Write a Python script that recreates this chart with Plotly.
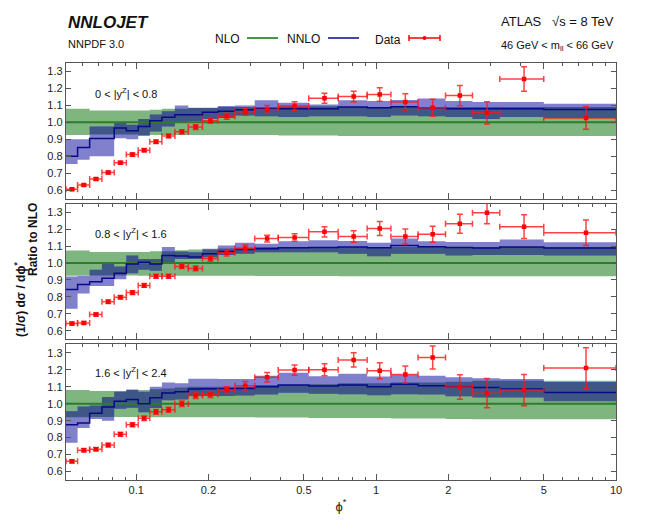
import plotly.graph_objects as go
from plotly.subplots import make_subplots

# ---------------- data ----------------
edges = [0.051, 0.057, 0.064, 0.072, 0.081, 0.091, 0.102, 0.114, 0.128, 0.145, 0.165,
         0.189, 0.219, 0.258, 0.312, 0.391, 0.524, 0.695, 0.918, 1.153, 1.496, 1.947,
         2.522, 3.277, 5.0, 10.0]

panel_labels = ["0 &lt; |y<sup>Z</sup>| &lt; 0.8",
                "0.8 &lt; |y<sup>Z</sup>| &lt; 1.6",
                "1.6 &lt; |y<sup>Z</sup>| &lt; 2.4"]

# data / NLO ratio
data1 = [0.605, 0.63, 0.666, 0.704, 0.762, 0.81, 0.836, 0.886, 0.92, 0.944, 0.972, 1.01, 1.036,
         1.062, 1.076, 1.096, 1.142, 1.152, 1.164, 1.12, 1.086, 1.158, 1.056, 1.256, 1.026]
err1 = [0.007, 0.007, 0.008, 0.009, 0.009, 0.01, 0.01, 0.01, 0.011, 0.012, 0.014, 0.016, 0.017,
        0.02, 0.023, 0.025, 0.03, 0.032, 0.04, 0.048, 0.05, 0.06, 0.065, 0.072, 0.067]
data2 = [0.643, 0.647, 0.697, 0.772, 0.798, 0.826, 0.868, 0.922, 0.922, 0.98, 0.968, 1.026, 1.06,
         1.086, 1.144, 1.15, 1.184, 1.156, 1.204, 1.156, 1.17, 1.232, 1.297, 1.214, 1.178]
err2 = [0.008, 0.008, 0.009, 0.01, 0.01, 0.011, 0.011, 0.012, 0.012, 0.013, 0.014, 0.016, 0.018,
        0.02, 0.02, 0.022, 0.03, 0.034, 0.041, 0.044, 0.047, 0.056, 0.065, 0.07, 0.075]
data3 = [0.66, 0.726, 0.732, 0.756, 0.82, 0.876, 0.914, 0.952, 0.964, 1.0, 1.048, 1.054, 1.08,
         1.106, 1.156, 1.198, 1.2, 1.258, 1.194, 1.172, 1.272, 1.098, 1.062, 1.08, 1.21]
err3 = [0.01, 0.01, 0.01, 0.011, 0.012, 0.012, 0.013, 0.014, 0.015, 0.016, 0.017, 0.017, 0.02,
        0.025, 0.028, 0.03, 0.035, 0.042, 0.047, 0.05, 0.068, 0.072, 0.086, 0.092, 0.12]

# NNLO / NLO central and scale band
nnlo1 = [0.80, 0.852, 0.905, 0.905, 0.966, 0.95, 0.976, 1.01, 1.03, 1.045, 1.045, 1.06, 1.065,
         1.075, 1.08, 1.08, 1.08, 1.09, 1.086, 1.092, 1.086, 1.08, 1.08, 1.08, 1.076]
nnlo1_hi = [0.90, 0.90, 0.975, 0.975, 0.996, 0.986, 1.02, 1.046, 1.066, 1.10, 1.086, 1.086, 1.096,
            1.10, 1.13, 1.115, 1.105, 1.13, 1.126, 1.132, 1.14, 1.126, 1.12, 1.12, 1.11]
nnlo1_lo = [0.755, 0.78, 0.80, 0.80, 0.906, 0.90, 0.92, 0.946, 0.976, 1.0, 1.006, 1.02, 1.026,
            1.04, 1.036, 1.032, 1.036, 1.036, 1.032, 1.04, 1.036, 1.032, 1.02, 1.032, 1.026]
nnlo2 = [0.844, 0.874, 0.89, 0.91, 0.94, 0.994, 1.004, 0.994, 1.044, 1.042, 1.036, 1.054, 1.068,
         1.08, 1.084, 1.09, 1.092, 1.094, 1.09, 1.104, 1.096, 1.092, 1.088, 1.094, 1.088]
nnlo2_hi = [0.92, 0.924, 0.96, 0.994, 0.98, 1.044, 1.024, 1.024, 1.094, 1.068, 1.064, 1.084, 1.104,
            1.12, 1.114, 1.128, 1.134, 1.13, 1.12, 1.144, 1.128, 1.124, 1.124, 1.138, 1.122]
nnlo2_lo = [0.73, 0.82, 0.864, 0.864, 0.904, 0.94, 0.96, 0.954, 1.004, 1.024, 1.024, 1.034, 1.048,
            1.054, 1.064, 1.064, 1.064, 1.054, 1.04, 1.054, 1.054, 1.044, 1.048, 1.048, 1.044]
nnlo3 = [0.876, 0.886, 0.944, 0.98, 1.014, 1.024, 1.0, 1.035, 1.063, 1.07, 1.086, 1.088, 1.088,
         1.09, 1.10, 1.11, 1.104, 1.11, 1.10, 1.114, 1.106, 1.10, 1.096, 1.086, 1.066]
nnlo3_hi = [0.956, 0.984, 0.99, 1.04, 1.07, 1.084, 1.07, 1.10, 1.125, 1.12, 1.147, 1.147, 1.145,
            1.145, 1.165, 1.182, 1.162, 1.176, 1.16, 1.17, 1.164, 1.156, 1.15, 1.146, 1.128]
nnlo3_lo = [0.77, 0.856, 0.91, 0.90, 0.97, 0.976, 0.95, 0.975, 1.02, 1.025, 1.045, 1.045, 1.045,
            1.048, 1.054, 1.065, 1.058, 1.056, 1.05, 1.056, 1.054, 1.044, 1.036, 1.036, 1.014]

# NLO scale band (central = 1)
nlo1_hi = [1.08, 1.08, 1.07, 1.07, 1.07, 1.07, 1.07, 1.075, 1.08, 1.08, 1.085, 1.085, 1.09,
           1.09, 1.09, 1.095, 1.095, 1.09, 1.09, 1.09, 1.09, 1.09, 1.09, 1.09, 1.09]
nlo1_lo = [0.925, 0.925, 0.928, 0.928, 0.928, 0.928, 0.925, 0.925, 0.925, 0.925, 0.925, 0.925, 0.925,
           0.925, 0.925, 0.922, 0.922, 0.92, 0.92, 0.92, 0.92, 0.92, 0.92, 0.92, 0.92]
nlo2_hi = [1.074, 1.074, 1.065, 1.065, 1.065, 1.065, 1.065, 1.07, 1.07, 1.075, 1.08, 1.08, 1.085,
           1.09, 1.095, 1.095, 1.095, 1.095, 1.095, 1.095, 1.095, 1.095, 1.095, 1.095, 1.095]
nlo2_lo = [0.925, 0.925, 0.926, 0.926, 0.926, 0.926, 0.925, 0.925, 0.925, 0.925, 0.925, 0.925, 0.925,
           0.925, 0.924, 0.923, 0.923, 0.922, 0.922, 0.922, 0.922, 0.922, 0.922, 0.922, 0.922]
nlo3_hi = [1.08, 1.08, 1.075, 1.075, 1.075, 1.08, 1.08, 1.085, 1.09, 1.095, 1.1, 1.1, 1.1,
           1.1, 1.11, 1.11, 1.115, 1.12, 1.12, 1.125, 1.125, 1.13, 1.135, 1.135, 1.135]
nlo3_lo = [0.92, 0.92, 0.922, 0.922, 0.922, 0.922, 0.92, 0.92, 0.92, 0.92, 0.92, 0.92, 0.92,
           0.92, 0.918, 0.918, 0.915, 0.915, 0.915, 0.912, 0.912, 0.91, 0.908, 0.908, 0.908]

x_major = [0.1, 0.2, 0.5, 1, 2, 5, 10]
x_major_text = ["0.1", "0.2", "0.5", "1", "2", "5", "10"]
x_minor = [0.06, 0.07, 0.08, 0.09, 0.3, 0.4, 0.6, 0.7, 0.8, 0.9, 3, 4, 6, 7, 8, 9]
y_ticks = [0.6, 0.7, 0.8, 0.9, 1.0, 1.1, 1.2, 1.3]

panels = [
    (data1, err1, nnlo1, nnlo1_hi, nnlo1_lo, nlo1_hi, nlo1_lo),
    (data2, err2, nnlo2, nnlo2_hi, nnlo2_lo, nlo2_hi, nlo2_lo),
    (data3, err3, nnlo3, nnlo3_hi, nnlo3_lo, nlo3_hi, nlo3_lo),
]

# ---------------- styling ----------------
# the page body has an 8px margin, so the figure is made 8px smaller and
# all page positions are shifted by that offset
OFF = 8
W, H = 648 - OFF, 530 - OFF
ML, MR, MT, MB = 66 - OFF, 32, 63 - OFF, 50
PW, PH = W - ML - MR, H - MT - MB
GAP = 5

def px(x):
    return (x - OFF - ML) / PW

def py(y):
    return (H - MB - (y - OFF)) / PH

GREEN_BAND = "rgb(127,181,127)"
BLUE_BAND = "rgb(128,128,204)"
OVERLAP = "rgb(62,87,135)"
NLO_LINE = "rgb(45,125,45)"
NNLO_LINE = "rgb(10,10,135)"
RED = "rgb(255,0,0)"
RED_ERR = "rgba(255,20,20,0.8)"
AXIS_COL = "#555555"
FONT = "Liberation Sans, Arial, sans-serif"

fig = make_subplots(rows=3, cols=1, shared_xaxes=True, vertical_spacing=GAP / PH)

centers = [(edges[i] + edges[i + 1]) / 2 for i in range(len(edges) - 1)]
xm = [c - edges[i] for i, c in enumerate(centers)]
xp = [edges[i + 1] - c for i, c in enumerate(centers)]


def step(vals):
    return list(vals) + [vals[-1]]


for r, (dat, err, cen, hi, lo, nhi, nlo) in enumerate(panels, start=1):
    # NLO band
    fig.add_trace(go.Scatter(x=edges, y=step(nlo), mode="lines", line=dict(width=0, shape="hv"),
                             showlegend=False, hoverinfo="skip"), row=r, col=1)
    fig.add_trace(go.Scatter(x=edges, y=step(nhi), mode="lines", line=dict(width=0, shape="hv"),
                             fill="tonexty", fillcolor=GREEN_BAND, showlegend=False,
                             hoverinfo="skip"), row=r, col=1)
    # NNLO band
    fig.add_trace(go.Scatter(x=edges, y=step(lo), mode="lines", line=dict(width=0, shape="hv"),
                             showlegend=False, hoverinfo="skip"), row=r, col=1)
    fig.add_trace(go.Scatter(x=edges, y=step(hi), mode="lines", line=dict(width=0, shape="hv"),
                             fill="tonexty", fillcolor=BLUE_BAND, showlegend=False,
                             hoverinfo="skip"), row=r, col=1)
    # overlap of the two bands
    ov_hi = [min(a, b) for a, b in zip(nhi, hi)]
    ov_lo = [max(a, b) for a, b in zip(nlo, lo)]
    ov_lo = [min(l, h) for l, h in zip(ov_lo, ov_hi)]
    fig.add_trace(go.Scatter(x=edges, y=step(ov_lo), mode="lines", line=dict(width=0, shape="hv"),
                             showlegend=False, hoverinfo="skip"), row=r, col=1)
    fig.add_trace(go.Scatter(x=edges, y=step(ov_hi), mode="lines", line=dict(width=0, shape="hv"),
                             fill="tonexty", fillcolor=OVERLAP, showlegend=False,
                             hoverinfo="skip"), row=r, col=1)
    # NLO central
    fig.add_trace(go.Scatter(x=[edges[0], edges[-1]], y=[1.0, 1.0], mode="lines",
                             line=dict(color=NLO_LINE, width=2), showlegend=False,
                             hoverinfo="skip"), row=r, col=1)
    # NNLO central
    fig.add_trace(go.Scatter(x=edges, y=step(cen), mode="lines",
                             line=dict(color=NNLO_LINE, width=1.5, shape="hv"),
                             showlegend=False, hoverinfo="skip"), row=r, col=1)
    # data
    fig.add_trace(go.Scatter(
        x=centers, y=dat, mode="markers",
        marker=dict(symbol="square", size=4.5, color=RED),
        error_y=dict(type="data", array=err, visible=True, color=RED_ERR, thickness=1.5, width=3),
        error_x=dict(type="data", symmetric=False, array=xp, arrayminus=xm, visible=True,
                     color=RED_ERR, thickness=1.5, width=3),
        showlegend=False), row=r, col=1)

for r in (1, 2, 3):
    fig.update_xaxes(
        type="log", range=[-1.2924, 1.0],
        showline=True, linecolor=AXIS_COL, linewidth=1.3, mirror="ticks",
        ticks="inside", ticklen=6, tickwidth=1, tickcolor=AXIS_COL,
        tickmode="array", tickvals=x_major, ticktext=x_major_text,
        minor=dict(tickmode="array", tickvals=x_minor, ticks="inside", ticklen=3,
                   tickcolor=AXIS_COL, tickwidth=1),
        showgrid=False, zeroline=False,
        showticklabels=(r == 3),
        tickfont=dict(family=FONT, size=11, color="#222"),
        row=r, col=1)
    fig.update_yaxes(
        range=[0.55, 1.35],
        showline=True, linecolor=AXIS_COL, linewidth=1.3, mirror="ticks",
        ticks="inside", ticklen=5, tickwidth=1, tickcolor=AXIS_COL,
        tickmode="array", tickvals=y_ticks, ticktext=[f"{v:.1f}" for v in y_ticks],
        showgrid=False, zeroline=False,
        tickfont=dict(family=FONT, size=11, color="#222"),
        row=r, col=1)

fig.update_xaxes(title=dict(text="ϕ<sup>*</sup>", font=dict(family=FONT, size=13, color="#222"),
                            standoff=6), row=3, col=1)

annotations = []
# panel labels
panel_label_y = [93, 233, 372]
for lab, yy in zip(panel_labels, panel_label_y):
    annotations.append(dict(text=lab, x=px(93), y=py(yy), xref="paper", yref="paper",
                            xanchor="left", yanchor="middle", showarrow=False,
                            font=dict(family=FONT, size=11, color="#111")))

# header texts
annotations += [
    dict(text="<b><i>NNLOJET</i></b>", x=px(66), y=py(23), xref="paper", yref="paper",
         xanchor="left", yanchor="middle", showarrow=False,
         font=dict(family=FONT, size=17, color="#111")),
    dict(text="NNPDF 3.0", x=px(66), y=py(44), xref="paper", yref="paper",
         xanchor="left", yanchor="middle", showarrow=False,
         font=dict(family=FONT, size=11, color="#111")),
    dict(text="ATLAS   √s = 8 TeV", x=px(616), y=py(22), xref="paper", yref="paper",
         xanchor="right", yanchor="middle", showarrow=False,
         font=dict(family=FONT, size=13, color="#111")),
    dict(text="46 GeV &lt; m<sub>ll</sub> &lt; 66 GeV", x=px(616), y=py(46), xref="paper",
         yref="paper", xanchor="right", yanchor="middle", showarrow=False,
         font=dict(family=FONT, size=11, color="#111")),
    dict(text="NLO", x=px(242), y=py(39), xref="paper", yref="paper",
         xanchor="right", yanchor="middle", showarrow=False,
         font=dict(family=FONT, size=12, color="#111")),
    dict(text="NNLO", x=px(322), y=py(39), xref="paper", yref="paper",
         xanchor="right", yanchor="middle", showarrow=False,
         font=dict(family=FONT, size=12, color="#111")),
    dict(text="Data", x=px(403), y=py(40), xref="paper", yref="paper",
         xanchor="right", yanchor="middle", showarrow=False,
         font=dict(family=FONT, size=12, color="#111")),
    dict(text="<b>Ratio to NLO</b>", x=px(33), y=py(240), xref="paper", yref="paper",
         xanchor="center", yanchor="middle", showarrow=False, textangle=-90,
         font=dict(family=FONT, size=12, color="#111")),
    dict(text="<b>(1/σ) dσ / dϕ<sup>*</sup></b>", x=px(20), y=py(300), xref="paper", yref="paper",
         xanchor="center", yanchor="middle", showarrow=False, textangle=-90,
         font=dict(family=FONT, size=12, color="#111")),
]

shapes = [
    dict(type="line", xref="paper", yref="paper", x0=px(247), x1=px(278), y0=py(38), y1=py(38),
         line=dict(color="rgb(70,150,70)", width=2)),
    dict(type="line", xref="paper", yref="paper", x0=px(328), x1=px(359), y0=py(38), y1=py(38),
         line=dict(color="rgb(70,70,170)", width=2)),
    dict(type="line", xref="paper", yref="paper", x0=px(409), x1=px(440), y0=py(38), y1=py(38),
         line=dict(color=RED, width=1.5)),
    dict(type="line", xref="paper", yref="paper", x0=px(409), x1=px(409), y0=py(35), y1=py(41),
         line=dict(color=RED, width=1.5)),
    dict(type="line", xref="paper", yref="paper", x0=px(440), x1=px(440), y0=py(35), y1=py(41),
         line=dict(color=RED, width=1.5)),
    dict(type="circle", xref="paper", yref="paper", x0=px(422.5), x1=px(426.5), y0=py(36),
         y1=py(40), fillcolor=RED, line=dict(color=RED, width=0)),
]

fig.update_layout(
    width=W, height=H,
    margin=dict(l=ML, r=MR, t=MT, b=MB),
    paper_bgcolor="white", plot_bgcolor="white",
    showlegend=False,
    annotations=annotations, shapes=shapes,
    font=dict(family=FONT, color="#111"),
)

fig.write_html("out.html")
